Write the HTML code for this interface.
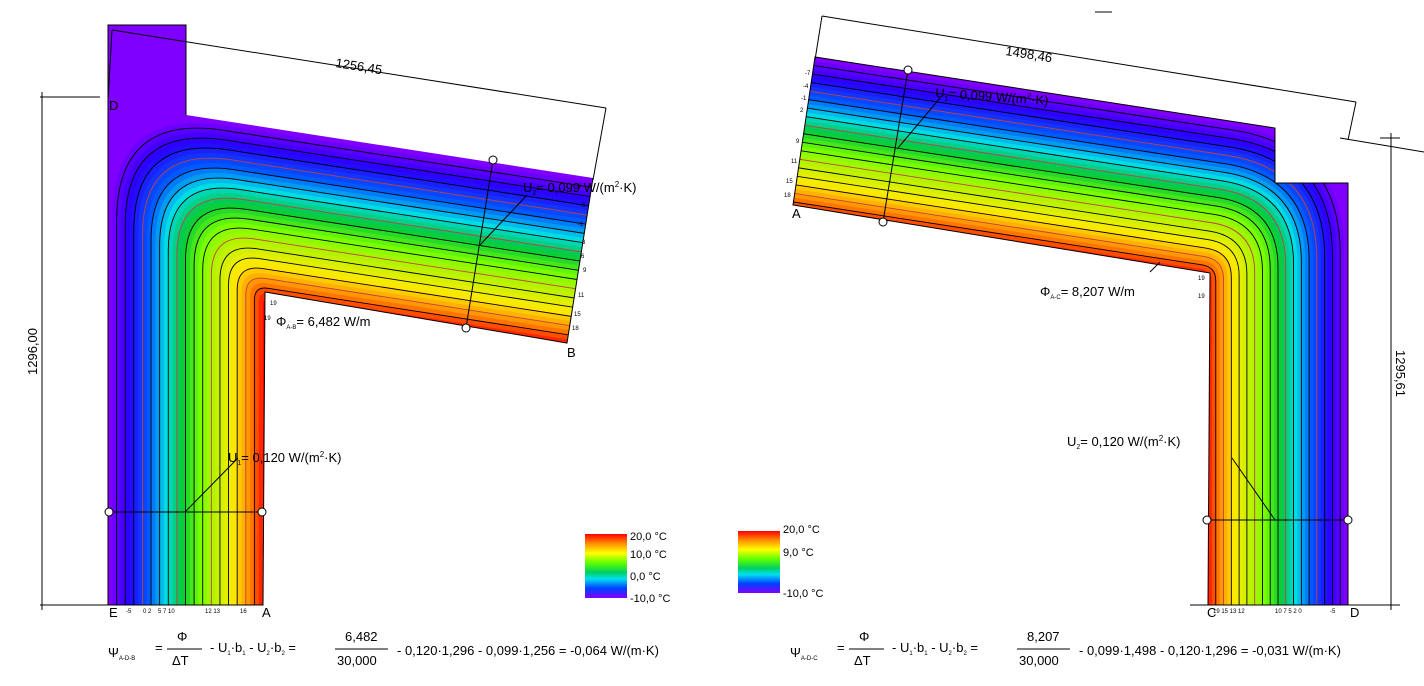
<!DOCTYPE html>
<html><head><meta charset="utf-8">
<style>
html,body{margin:0;padding:0;background:#fff;}
svg{display:block;font-family:"Liberation Sans",sans-serif;}
</style></head>
<body>
<svg id="s" width="1424" height="686" viewBox="0 0 1424 686" xmlns="http://www.w3.org/2000/svg">
<defs>
<clipPath id="cl"><polygon points="108,25 186,25 186,115 593,178 567,343 265,292 263,605 108,605"/></clipPath>
<clipPath id="cr"><polygon points="815,57 1275,128 1275,183 1348,183 1348,605 1208,605 1210,273 793,205"/></clipPath>
<linearGradient id="lg" x1="0" y1="0" x2="0" y2="1">
<stop offset="0" stop-color="#ff0000"/><stop offset="0.15" stop-color="#ff9000"/><stop offset="0.3" stop-color="#ffff00"/><stop offset="0.45" stop-color="#60ff00"/><stop offset="0.6" stop-color="#00d060"/><stop offset="0.7" stop-color="#00e0f0"/><stop offset="0.85" stop-color="#0040ff"/><stop offset="1" stop-color="#8000ff"/>
</linearGradient>
</defs>
<g id="L" clip-path="url(#cl)"></g>
<g id="R" clip-path="url(#cr)"></g>
<g fill="none" stroke="#000" stroke-width="1">
<polyline points="186,115 186,25 108,25 108,605 263,605 265,292 567,343 593,178"/>
<polyline points="1275,183 1275,128 815,57 793,205 1210,273 1208,605 1348,605 1348,183 1275,183"/>
<line x1="40" y1="97" x2="100" y2="97"/><line x1="40" y1="605" x2="110" y2="605"/>
<line x1="42" y1="92" x2="42" y2="610"/>
<line x1="112" y1="30" x2="606" y2="108"/><line x1="112" y1="30" x2="108" y2="100"/><line x1="606" y1="108" x2="593" y2="180"/>
<line x1="108" y1="512" x2="263" y2="512"/>
<line x1="185" y1="512" x2="238" y2="458"/>
<line x1="493" y1="160" x2="466" y2="328"/><line x1="480" y1="245" x2="527" y2="195"/>
<line x1="822" y1="16" x2="1356" y2="102"/><line x1="822" y1="16" x2="815" y2="60"/><line x1="1356" y1="102" x2="1348" y2="140"/>
<line x1="1340" y1="138" x2="1424" y2="152"/>
<line x1="1380" y1="138" x2="1400" y2="138"/><line x1="1370" y1="605" x2="1400" y2="605"/>
<line x1="1391" y1="133" x2="1391" y2="610"/>
<line x1="1208" y1="520" x2="1348" y2="520"/><line x1="1275" y1="520" x2="1232" y2="458"/>
<line x1="908" y1="70" x2="883" y2="222"/><line x1="898" y1="148" x2="940" y2="98"/>
<line x1="1150" y1="272" x2="1160" y2="262"/>
<line x1="1190" y1="605" x2="1370" y2="605"/>
<line x1="1095" y1="12" x2="1112" y2="12"/>
</g>
<g fill="#fff" stroke="#000">
<circle cx="109" cy="512" r="4"/><circle cx="262" cy="512" r="4"/><circle cx="493" cy="160" r="4"/><circle cx="466" cy="328" r="4"/>
<circle cx="1207" cy="520" r="4"/><circle cx="1348" cy="520" r="4"/><circle cx="908" cy="70" r="4"/><circle cx="883" cy="222" r="4"/>
</g>
<g font-size="13" fill="#000">
<text x="335" y="67" transform="rotate(9 335 67)">1256,45</text>
<text x="1005" y="55" transform="rotate(9 1005 55)">1498,46</text>
<text x="37" y="375" transform="rotate(-90 37 375)">1296,00</text>
<text x="1396" y="350" transform="rotate(90 1396 350)">1295,61</text>
<text x="109" y="110">D</text><text x="109" y="617">E</text><text x="262" y="617">A</text><text x="567" y="357">B</text>
<text x="792" y="218">A</text><text x="1207" y="617">C</text><text x="1350" y="617">D</text>
<text x="228" y="462">U<tspan font-size="7" dy="3">1</tspan><tspan dy="-3">= 0,120 W/(m</tspan><tspan font-size="8" dy="-5">2</tspan><tspan dy="5">·K)</tspan></text>
<text x="1067" y="446">U<tspan font-size="7" dy="3">2</tspan><tspan dy="-3">= 0,120 W/(m</tspan><tspan font-size="8" dy="-5">2</tspan><tspan dy="5">·K)</tspan></text>
<text x="523" y="192">U<tspan font-size="7" dy="3">2</tspan><tspan dy="-3">= 0,099 W/(m</tspan><tspan font-size="8" dy="-5">2</tspan><tspan dy="5">·K)</tspan></text>
<text x="935" y="97" transform="rotate(4 935 97)">U<tspan font-size="7" dy="3">1</tspan><tspan dy="-3">= 0,099 W/(m</tspan><tspan font-size="8" dy="-5">2</tspan><tspan dy="5">·K)</tspan></text>
<text x="276" y="326">Φ<tspan font-size="6" dy="3">A-B</tspan><tspan dy="-3">= 6,482 W/m</tspan></text>
<text x="1040" y="296">Φ<tspan font-size="6" dy="3">A-C</tspan><tspan dy="-3">= 8,207 W/m</tspan></text>
</g>
<rect x="585" y="534" width="42" height="64" fill="url(#lg)"/>
<rect x="738" y="531" width="42" height="62" fill="url(#lg)"/>
<g font-size="11" fill="#000">
<text x="630" y="540">20,0 °C</text><text x="630" y="558">10,0 °C</text><text x="630" y="580">0,0 °C</text><text x="630" y="602">-10,0 °C</text>
<text x="783" y="533">20,0 °C</text><text x="783" y="556">9,0 °C</text><text x="783" y="597">-10,0 °C</text>
</g>
<g font-size="6" fill="#000">
<text x="126" y="613">-5</text><text x="143" y="613">0 2</text><text x="158" y="613">5 7 10</text><text x="205" y="613">12 13</text><text x="240" y="613">16</text>
<text x="576" y="188">-9</text><text x="580" y="207">-5</text><text x="578" y="226">-1</text><text x="582" y="244">3</text><text x="581" y="258">6</text><text x="583" y="272">9</text><text x="578" y="297">11</text><text x="574" y="316">15</text><text x="572" y="330">18</text>
<text x="805" y="75">-7</text><text x="803" y="88">-4</text><text x="801" y="100">-1</text><text x="800" y="112">2</text><text x="796" y="143">9</text><text x="791" y="163">11</text><text x="786" y="183">15</text><text x="784" y="197">18</text>
<text x="1213" y="613">19 15 13 12</text><text x="1275" y="613">10 7 5 2 0</text><text x="1330" y="613">-5</text>
<text x="270" y="305">19</text><text x="264" y="320">19</text><text x="1198" y="280">19</text><text x="1198" y="298">19</text>
</g>
<g font-size="13" fill="#000">
<text x="108" y="657">Ψ<tspan font-size="6" dy="3">A-D-B</tspan></text>
<text x="155" y="652">=</text><text x="177" y="641">Φ</text><line x1="167" y1="649" x2="202" y2="649" stroke="#000"/><text x="172" y="665">ΔT</text>
<text x="210" y="652">-  U<tspan font-size="6" dy="3">1</tspan><tspan dy="-3">·b</tspan><tspan font-size="6" dy="3">1</tspan><tspan dy="-3">  -  U</tspan><tspan font-size="6" dy="3">2</tspan><tspan dy="-3">·b</tspan><tspan font-size="6" dy="3">2</tspan><tspan dy="-3">  =</tspan></text>
<text x="345" y="641">6,482</text><line x1="335" y1="649" x2="388" y2="649" stroke="#000"/><text x="337" y="665">30,000</text>
<text x="397" y="655">-  0,120·1,296  -  0,099·1,256  =   -0,064 W/(m·K)</text>
<text x="790" y="657">Ψ<tspan font-size="6" dy="3">A-D-C</tspan></text>
<text x="837" y="652">=</text><text x="859" y="641">Φ</text><line x1="849" y1="649" x2="884" y2="649" stroke="#000"/><text x="854" y="665">ΔT</text>
<text x="892" y="652">-  U<tspan font-size="6" dy="3">1</tspan><tspan dy="-3">·b</tspan><tspan font-size="6" dy="3">1</tspan><tspan dy="-3">  -  U</tspan><tspan font-size="6" dy="3">2</tspan><tspan dy="-3">·b</tspan><tspan font-size="6" dy="3">2</tspan><tspan dy="-3">  =</tspan></text>
<text x="1027" y="641">8,207</text><line x1="1017" y1="649" x2="1070" y2="649" stroke="#000"/><text x="1019" y="665">30,000</text>
<text x="1079" y="655">-  0,099·1,498  -  0,120·1,296  =   -0,031 W/(m·K)</text>
</g>
</svg>
<script>
var stops=[[0,[128,0,255]],[0.12,[40,0,255]],[0.25,[0,90,255]],[0.36,[0,220,230]],[0.46,[0,200,60]],[0.58,[120,255,0]],[0.7,[200,240,0]],[0.8,[255,235,0]],[0.9,[255,140,0]],[1,[255,0,0]]];
function col(t){for(var i=1;i<stops.length;i++){if(t<=stops[i][0]){var a=stops[i-1],b=stops[i],f=(t-a[0])/(b[0]-a[0]);return 'rgb('+[0,1,2].map(function(k){return Math.round(a[1][k]+(b[1][k]-a[1][k])*f)}).join(',')+')';}}return 'rgb(255,0,0)';}
function build(g,side){
  var N=36,s='',lines='';
  s+='<rect x="0" y="0" width="1424" height="686" fill="'+col(0)+'"/>';
  for(var i=1;i<=N;i++){
    var t=i/N,d,pl,R=105*(1-t)+8;
    if(side==0){
      var x=108+155*t,yr=function(X){return 115+(X-186)*0.155+170*t;},cy=yr(x);
      pl='M'+x+',700 L'+x+','+(cy+R)+' Q'+x+','+cy+' '+(x+R)+','+(cy+R*0.155)+' L700,'+yr(700);
    }else{
      var x=1348-140*t,yr=function(X){return 57+(X-815)*0.154+157*t;},cy=yr(x);
      pl='M'+x+',700 L'+x+','+(cy+R)+' Q'+x+','+cy+' '+(x-R)+','+(cy-R*0.154)+' L700,'+yr(700);
    }
    d=pl+' L700,700 Z';
    s+='<path d="'+d+'" fill="'+col(t)+'"/>';
    if(i<N && i%2==0) lines+='<path d="'+pl+'" fill="none" stroke="'+(i%8==0?'#c04040':'#000')+'" stroke-width="0.9"/>';
  }
  g.innerHTML=s+lines;
}
build(document.getElementById('L'),0);
build(document.getElementById('R'),1);
</script>
</body></html>
